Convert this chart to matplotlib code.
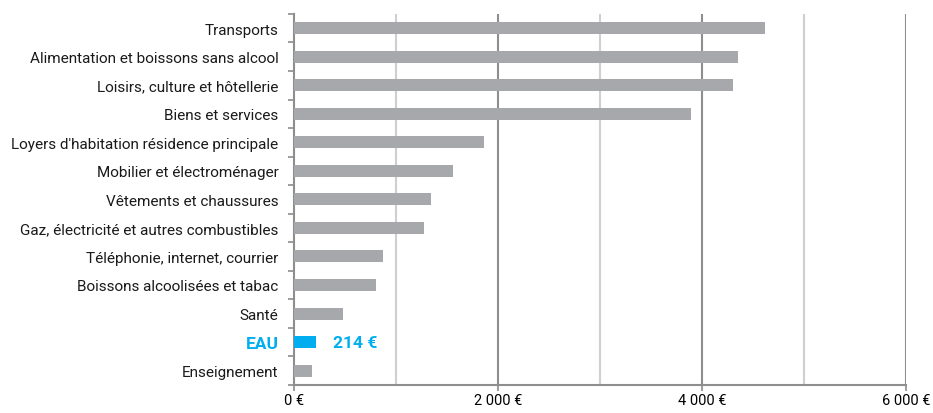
import matplotlib
matplotlib.use("Agg")
import matplotlib.pyplot as plt
import numpy as np

categories = ["Transports", "Alimentation et boissons sans alcool", "Loisirs, culture et hôtellerie",
              "Biens et services", "Loyers d'habitation résidence principale", "Mobilier et électroménager",
              "Vêtements et chaussures", "Gaz, électricité et autres combustibles",
              "Téléphonie, internet, courrier", "Boissons alcoolisées et tabac", "Santé", "EAU", "Enseignement"]
values = [4620, 4355, 4300, 3895, 1860, 1560, 1345, 1275, 870, 800, 480, 214, 178]
xticks = [0, 2000, 4000, 6000]
xticklabels = ["0 €", "2 000 €", "4 000 €", "6 000 €"]
highlight = "EAU"
highlight_label = "214 €"

font = ["Roboto", "DejaVu Sans"]
plt.rcParams['font.family'] = font

gray = "#a7a8ab"
blue = "#00aeef"

fig = plt.figure(figsize=(9.33, 4.14), dpi=100)
ax = fig.add_axes([0.315, 0.068, 0.656, 0.896])

y = np.arange(len(categories))
colors = [blue if c == highlight else gray for c in categories]
ax.barh(y, values, height=0.42, color=colors, zorder=3)

ax.set_ylim(len(categories) - 0.5, -0.5)
ax.set_xlim(0, 6000)

for gx in range(1000, 6001, 1000):
    col = "#8e8e8e" if gx % 2000 == 0 else "#cfcfcf"
    ax.axvline(gx, color=col, lw=1.5, zorder=1)

ax.set_yticks(y)
ax.set_yticklabels(categories, fontsize=11)
ax.set_yticks(np.arange(-0.5, len(categories)), minor=True)
ax.tick_params(axis='y', which='major', length=0, pad=11)
ax.tick_params(axis='y', which='minor', length=4, width=1.2, color="#8e8e8e", direction='out')
for lbl, c in zip(ax.get_yticklabels(), categories):
    if c == highlight:
        lbl.set_color(blue)
        lbl.set_fontweight('bold')
        lbl.set_fontsize(12.5)
    else:
        lbl.set_color("#1a1a1a")

ax.set_xticks(xticks)
ax.set_xticklabels(xticklabels, fontsize=10.5)
ax.tick_params(axis='x', length=4, width=1.2, color="#8e8e8e", pad=2)

hi = categories.index(highlight)
ax.text(values[hi] + 170, hi, highlight_label, color=blue, fontweight='bold', fontsize=12.5,
        va='center', ha='left', zorder=4)

for s in ['top', 'right']:
    ax.spines[s].set_visible(False)
for s in ['left', 'bottom']:
    ax.spines[s].set_color("#8e8e8e")
    ax.spines[s].set_linewidth(1.5)

fig.savefig("out.png", dpi=100)
